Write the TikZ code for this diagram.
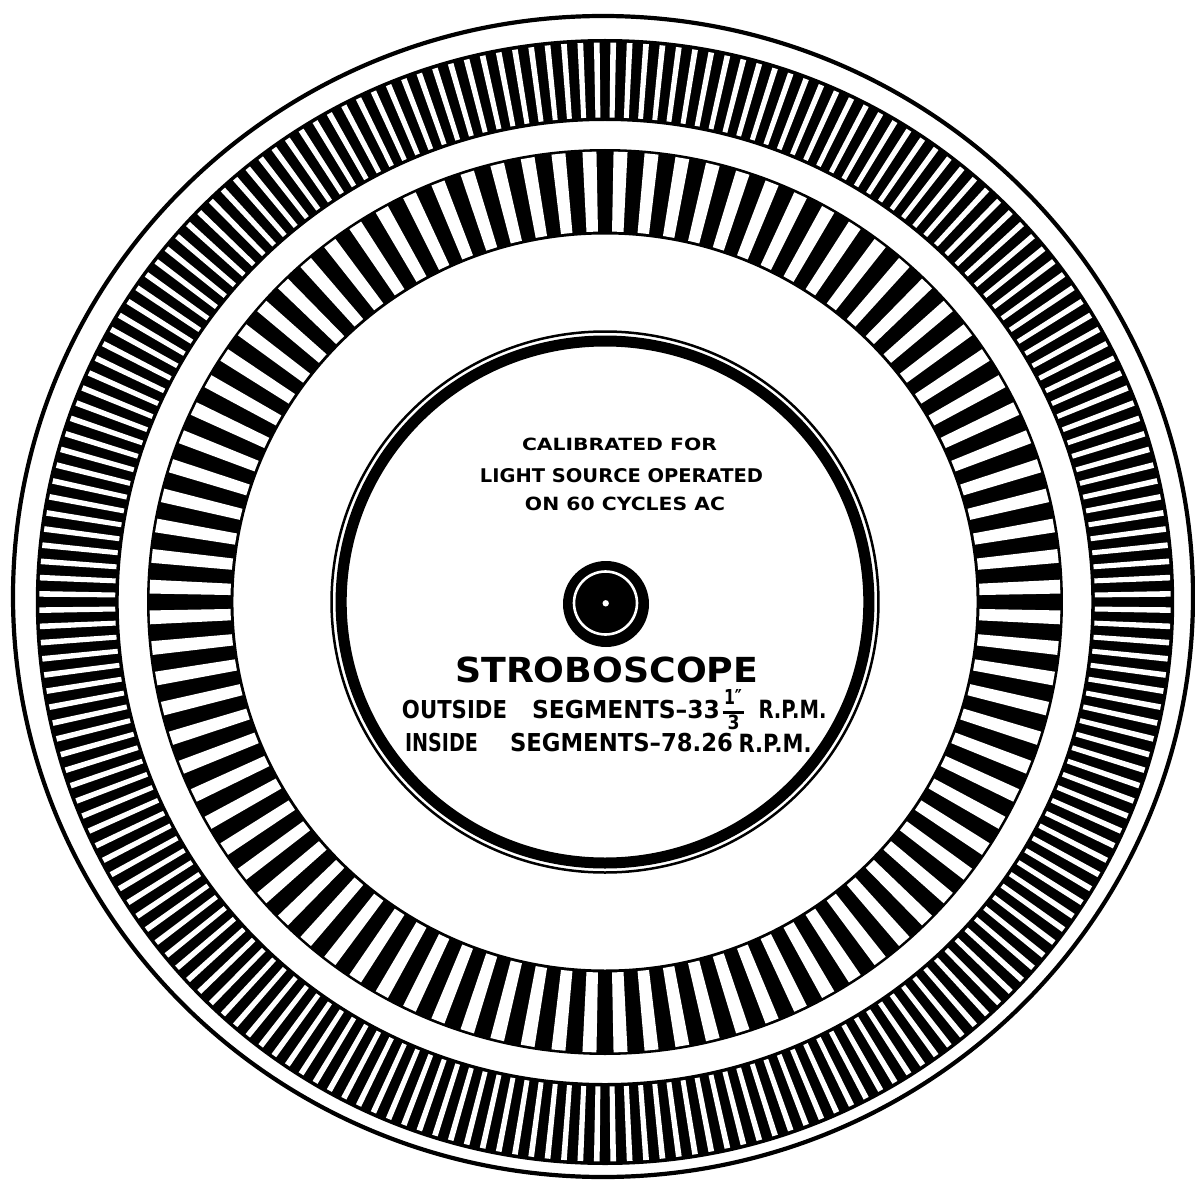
\documentclass[tikz,border=0pt]{standalone}
\usepackage{fontspec}
\setmainfont{DejaVu Sans}
\usepackage{graphicx}
\newcommand\fittext[3]{\resizebox{#1pt}{#2pt}{\bfseries #3}}
\begin{document}
\begin{tikzpicture}[x=1pt,y=-1pt,
  lbl/.style={inner sep=0pt,outer sep=0pt,anchor=center},
  rimline/.style={line width=4.2pt},
  whitebar/.style={fill=white}]
\useasboundingbox[fill=white] (0,0) rectangle (1195,1188);
% outer rim
\draw[rimline] (603,596.5) ellipse [x radius=590pt, y radius=580.5pt];
\begin{scope}[shift={(605,602)}, xscale=1.011]
  % outer band (216 segments)
  \fill[black,even odd rule] (0,0) circle[radius=563pt] (0,0) circle[radius=481pt];
  \foreach \i in {0,...,215}{
    \pgfmathsetmacro\ang{(\i+0.5)*1.6666667}
    \fill[whitebar] ({\ang-0.29}:484.5pt) -- ({\ang-0.29}:559.5pt) -- ({\ang+0.29}:559.5pt) -- ({\ang+0.29}:484.5pt) -- cycle;
  }
  % inner band (92 segments)
  \fill[black,even odd rule] (0,0) circle[radius=453pt] (0,0) circle[radius=367.5pt];
  \foreach \i in {0,...,91}{
    \pgfmathsetmacro\ang{(\i+0.5)*3.9130435}
    \fill[whitebar] ({\ang-0.88}:370.5pt) -- ({\ang-0.88}:450.5pt) -- ({\ang+0.88}:450.5pt) -- ({\ang+0.88}:370.5pt) -- cycle;
  }
  % label ring
  \fill[black,even odd rule] (0,0) circle[radius=266.5pt] (0,0) circle[radius=255.5pt];
  \draw[line width=2.5pt] (0,0) circle[radius=270.5pt];
\end{scope}
% hub
\fill (606,604) circle[radius=43pt];
\draw[white,line width=2.6pt] (605.5,603) circle[radius=31.5pt];
\fill[white] (605.7,603.3) circle[radius=3.2pt];
% texts
\node[lbl] (cal) at (619.5,444.2) {\fittext{195}{12.5}{CALIBRATED FOR}};
\node[lbl] (light) at (621.5,475.7) {\fittext{283}{14}{LIGHT SOURCE OPERATED}};
\node[lbl] (cyc) at (625,504) {\fittext{200}{13.5}{ON 60 CYCLES AC}};
\node[lbl] (title) at (606.7,669.5) {\fittext{303}{25.6}{STROBOSCOPE}};
\node[lbl] (out) at (454.5,709.2) {\fittext{105}{18.3}{OUTSIDE}};
\node[lbl] (outseg) at (626,709.2) {\fittext{188}{18.3}{SEGMENTS–33}};
\node[lbl] (fnum) at (733,697) {\fittext{18}{15}{1″}};
\node[lbl] (fden) at (733.5,722.5) {\fittext{12}{14.5}{3}};
\coordinate (fbarl) at (722.5,712.5);
\coordinate (fbarr) at (743.5,712.5);
\draw[line width=2.4pt] (fbarl) -- (fbarr);
\node[lbl] (outrpm) at (792.5,709.2) {\fittext{68}{18.3}{R.P.M.}};
\node[lbl] (ins) at (441.5,743) {\fittext{73}{18.3}{INSIDE}};
\node[lbl] (insseg) at (621.5,743) {\fittext{223}{18.3}{SEGMENTS–78.26}};
\node[lbl] (insrpm) at (775,743) {\fittext{73}{18.3}{R.P.M.}};
\end{tikzpicture}
\end{document}
